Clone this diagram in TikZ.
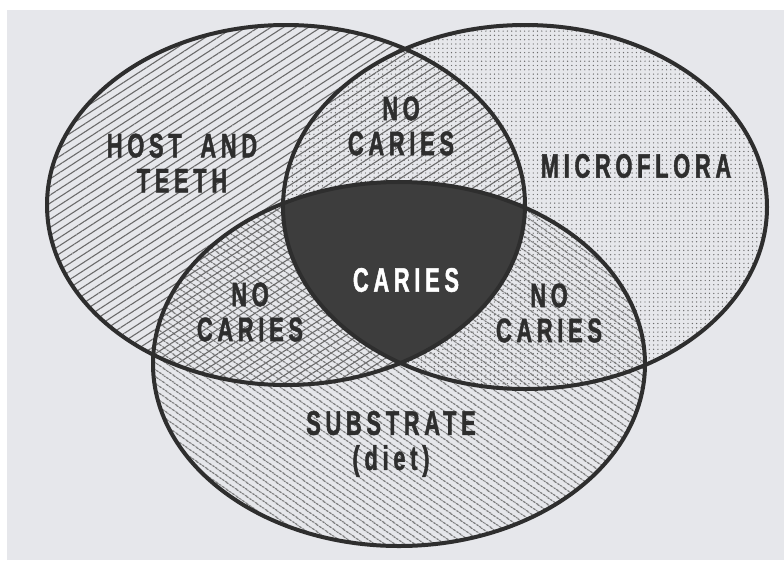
\documentclass[tikz,border=0pt]{standalone}
\usepackage{fontspec}
\usepackage{tikz}
\usetikzlibrary{patterns.meta}
\newfontfamily\vennfont{Liberation Sans}[FakeStretch=0.64,LetterSpace=14,FakeBold=1.3]
\definecolor{paper}{HTML}{E6E7EB}
\definecolor{ink}{HTML}{2E2E2E}
\definecolor{hatch}{HTML}{6A6A6A}
\definecolor{cariesfill}{HTML}{3D3D3D}

\begin{document}
\begin{tikzpicture}[x=1pt,y=-1pt]
  \tikzstyle{rim}=[draw=ink,line width=4pt]
  \tikzstyle{lbl}=[align=center,inner sep=0pt,text=ink,font=\vennfont\bfseries\fontsize{34}{35}\selectfont]
  \def\host{(286,205) ellipse [x radius=239,y radius=180]}
  \def\flora{(525,207) ellipse [x radius=242,y radius=182]}
  \def\diet{(399,364) ellipse [x radius=246,y radius=182]}
  \useasboundingbox (0,0) rectangle (784,560);
  \fill[white] (0,0) rectangle (784,560);
  \fill[paper] (7,10) rectangle (784,560);
  % one shading per set, overlaps mix by themselves
  \fill[pattern={Lines[angle=33,distance=6.8pt,line width=1.1pt]},pattern color=hatch] \host;
  \fill[pattern={Dots[distance=4.3pt,radius=0.7pt]},pattern color=hatch] \flora;
  \fill[pattern={Lines[angle=-35,distance=6.4pt,line width=1.1pt]},pattern color=hatch] \diet;
  \begin{scope}
    \clip \host;
    \clip \flora;
    \fill[cariesfill] \diet;
  \end{scope}
  \draw[rim] \host;
  \draw[rim] \flora;
  \draw[rim] \diet;
  \node[lbl] (ht) at (182,163) {HOST\hspace{8pt} AND\\TEETH};
  \node[lbl] (mf) at (636,166) {MICROFLORA};
  \node[lbl] (sb) at (391,444) {SUBSTRATE\\(diet)};
  \node[lbl] (nc1) at (401,126) {NO\\CARIES};
  \node[lbl] (nc2) at (250,312) {NO\\CARIES};
  \node[lbl] (nc3) at (549,313) {NO\\CARIES};
  \node[lbl,text=white] (ca) at (406,280) {CARIES};
\end{tikzpicture}
\end{document}
